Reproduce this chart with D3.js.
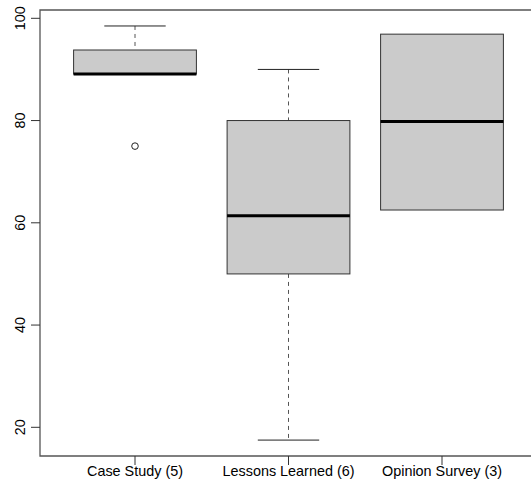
<!DOCTYPE html>
<html>
<head>
<meta charset="utf-8">
<script src="https://cdn.jsdelivr.net/npm/d3@7"></script>
<style>
  html, body { margin: 0; padding: 0; background: #fff; }
  svg { display: block; font-family: "Liberation Sans", Arial, sans-serif; }
</style>
</head>
<body>
<svg id="chart" width="531" height="493"></svg>
<script>
const categories = ["Case Study (5)", "Lessons Learned (6)", "Opinion Survey (3)"];
const lowerWhisker = [89.1, 17.5, 62.5];
const q1 = [89.1, 50.0, 62.5];
const medians = [89.1, 61.4, 79.8];
const q3 = [93.8, 80.0, 96.9];
const upperWhisker = [98.5, 90.0, 96.9];
const outliers = [[75.0], [], []];
const yTicks = [20, 40, 60, 80, 100];

(function () {
const svg = d3.select("#chart");
const W = 531;
const plotLeft = 40, plotTop = 10, plotBottom = 456;

const x = d3.scaleLinear().domain([1, 3]).range([135, 442]);
const y = d3.scaleLinear().domain([20, 100]).range([427.3, 18.3]);

const data = categories.map((c, i) => ({
  c, i, lo: lowerWhisker[i], q1: q1[i], med: medians[i], q3: q3[i], hi: upperWhisker[i], out: outliers[i]
}));

const g = svg.append("g");

// whiskers (dashed)
data.forEach(d => {
  const cx = x(d.i + 1);
  if (d.hi > d.q3) {
    g.append("line").attr("x1", cx).attr("x2", cx).attr("y1", y(d.hi)).attr("y2", y(d.q3))
      .attr("stroke", "#555").attr("stroke-width", 1).attr("stroke-dasharray", "4,4");
    g.append("line").attr("x1", x(d.i + 1 - 0.2)).attr("x2", x(d.i + 1 + 0.2))
      .attr("y1", y(d.hi)).attr("y2", y(d.hi)).attr("stroke", "#222").attr("stroke-width", 1);
  }
  if (d.lo < d.q1) {
    g.append("line").attr("x1", cx).attr("x2", cx).attr("y1", y(d.q1)).attr("y2", y(d.lo))
      .attr("stroke", "#555").attr("stroke-width", 1).attr("stroke-dasharray", "4,4");
    g.append("line").attr("x1", x(d.i + 1 - 0.2)).attr("x2", x(d.i + 1 + 0.2))
      .attr("y1", y(d.lo)).attr("y2", y(d.lo)).attr("stroke", "#222").attr("stroke-width", 1);
  }
});

// boxes
g.selectAll("rect.box").data(data).join("rect")
  .attr("class", "box")
  .attr("x", d => x(d.i + 1 - 0.4))
  .attr("width", d => x(d.i + 1 + 0.4) - x(d.i + 1 - 0.4))
  .attr("y", d => y(d.q3))
  .attr("height", d => y(d.q1) - y(d.q3))
  .attr("fill", "#cbcbcb")
  .attr("stroke", "#333")
  .attr("stroke-width", 1);

// medians
g.selectAll("line.med").data(data).join("line")
  .attr("class", "med")
  .attr("x1", d => x(d.i + 1 - 0.4))
  .attr("x2", d => x(d.i + 1 + 0.4))
  .attr("y1", d => y(d.med))
  .attr("y2", d => y(d.med))
  .attr("stroke", "#000")
  .attr("stroke-width", 3);

// outliers
data.forEach(d => {
  d.out.forEach(v => {
    g.append("circle").attr("cx", x(d.i + 1)).attr("cy", y(v)).attr("r", 3.3)
      .attr("fill", "none").attr("stroke", "#222").attr("stroke-width", 1);
  });
});

// frame: left, top, bottom
svg.append("path")
  .attr("d", `M${W},${plotBottom}H${plotLeft}V${plotTop}H${W}`)
  .attr("fill", "none").attr("stroke", "#555").attr("stroke-width", 1.3);

// y axis ticks & labels
yTicks.forEach(t => {
  svg.append("line").attr("x1", 31).attr("x2", plotLeft).attr("y1", y(t)).attr("y2", y(t))
    .attr("stroke", "#333").attr("stroke-width", 1);
  svg.append("text")
    .attr("transform", `translate(25,${y(t)}) rotate(-90)`)
    .attr("text-anchor", "middle")
    .attr("font-size", "14.4px")
    .attr("fill", "#000")
    .text(t);
});

// x axis ticks & labels
categories.forEach((c, i) => {
  const cx = x(i + 1);
  svg.append("line").attr("x1", cx).attr("x2", cx).attr("y1", plotBottom).attr("y2", 465)
    .attr("stroke", "#333").attr("stroke-width", 1);
  svg.append("text").attr("x", cx).attr("y", 475.5)
    .attr("text-anchor", "middle").attr("font-size", "14.4px").attr("fill", "#000")
    .text(c);
});
})();
</script>
</body>
</html>
